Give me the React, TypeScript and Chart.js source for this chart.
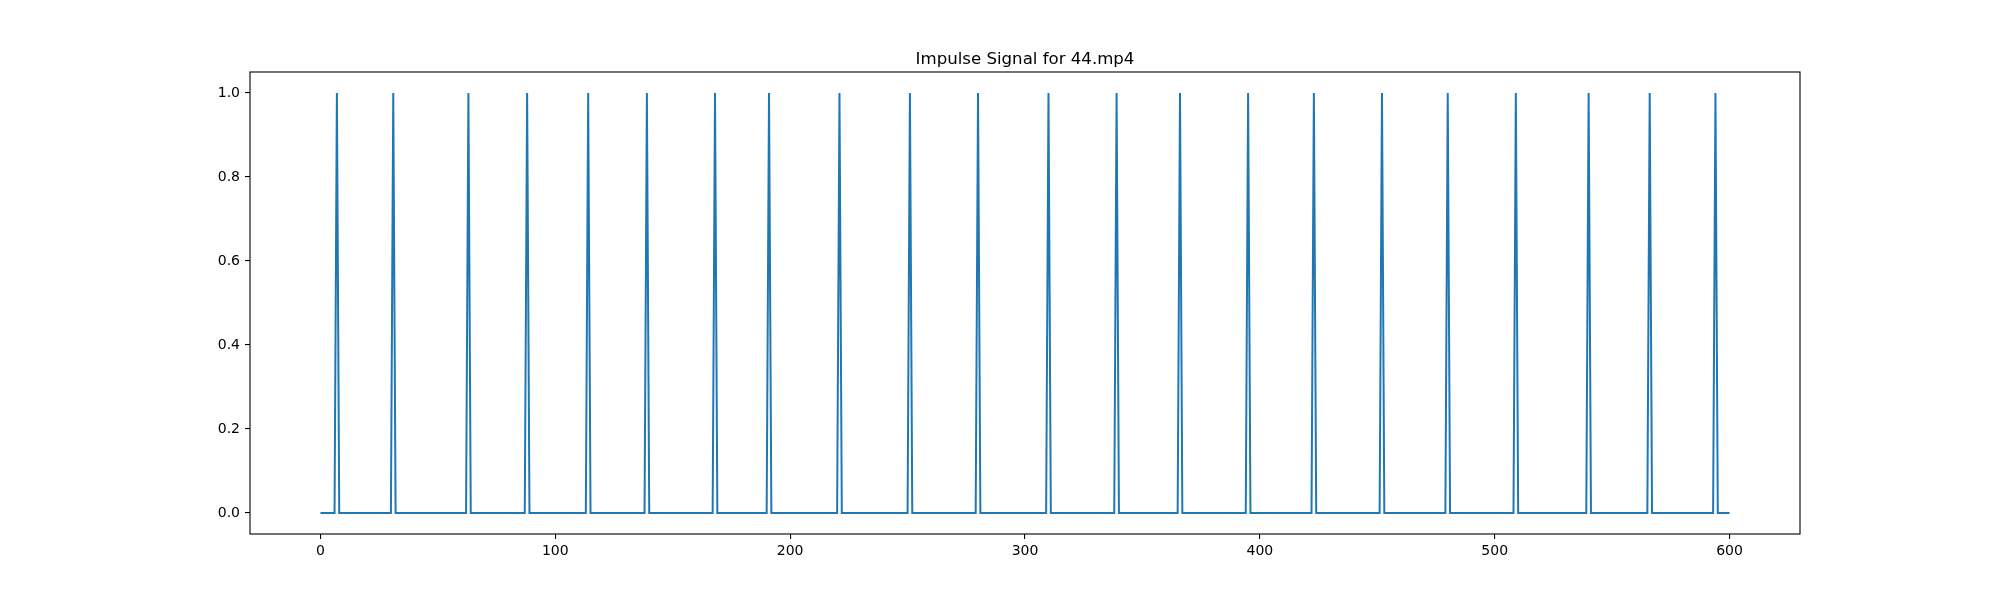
import React, { useEffect, useRef } from "react";
import { Chart, registerables } from "chart.js";

Chart.register(...registerables);

const TITLE = "Impulse Signal for 44.mp4";
const FRAME_COUNT = 601; // frames 0..600
const IMPULSE_FRAMES = [7, 31, 63, 88, 114, 139, 168, 191, 221, 251, 280, 310, 339, 366, 395, 423, 452, 480, 509, 540, 566, 594];
const X_TICKS = [0, 100, 200, 300, 400, 500, 600];
const Y_TICKS = [0, 0.2, 0.4, 0.6, 0.8, 1.0];

export default function App() {
  const ref = useRef<HTMLCanvasElement | null>(null);

  useEffect(() => {
    if (!ref.current) return;
    const impulseSet = new Set(IMPULSE_FRAMES);
    const points: { x: number; y: number }[] = [];
    for (let i = 0; i < FRAME_COUNT; i++) {
      points.push({ x: i, y: impulseSet.has(i) ? 1 : 0 });
    }
    const font = { family: "DejaVu Sans", size: 14 };

    const framePlugin = {
      id: "mplFrame",
      afterDraw(chart: any) {
        const { ctx, chartArea } = chart;
        ctx.save();
        ctx.strokeStyle = "#000";
        ctx.lineWidth = 1.1;
        ctx.strokeRect(chartArea.left, chartArea.top, chartArea.right - chartArea.left, chartArea.bottom - chartArea.top);
        ctx.fillStyle = "#000";
        ctx.font = "16.6px 'DejaVu Sans'";
        ctx.textAlign = "center";
        ctx.textBaseline = "alphabetic";
        ctx.fillText(TITLE, (chartArea.left + chartArea.right) / 2, 64);
        ctx.restore();
      },
    };

    const chart = new Chart(ref.current, {
      type: "line",
      data: {
        datasets: [
          {
            data: points,
            borderColor: "#1f77b4",
            borderWidth: 2,
            pointRadius: 0,
            fill: false,
            tension: 0,
          },
        ],
      },
      options: {
        animation: false,
        responsive: false,
        parsing: false as any,
        layout: { padding: { left: 0, right: 200, top: 72, bottom: 0 } },
        plugins: { legend: { display: false }, title: { display: false }, tooltip: { enabled: false } },
        scales: {
          x: {
            type: "linear",
            min: -30,
            max: 630,
            afterFit: (s: any) => {
              s.height = 66;
            },
            afterBuildTicks: (s: any) => {
              s.ticks = X_TICKS.map((v) => ({ value: v }));
            },
            grid: { display: true, drawOnChartArea: false, drawTicks: true, tickLength: 5, color: "#000", lineWidth: 1.1 },
            border: { display: false },
            ticks: { color: "#000", font, padding: 4, maxRotation: 0, autoSkip: false, callback: (v: any) => String(v) },
          },
          y: {
            type: "linear",
            min: -0.05,
            max: 1.05,
            afterFit: (s: any) => {
              s.width = 250;
            },
            afterBuildTicks: (s: any) => {
              s.ticks = Y_TICKS.map((v) => ({ value: v }));
            },
            grid: { display: true, drawOnChartArea: false, drawTicks: true, tickLength: 5, color: "#000", lineWidth: 1.1 },
            border: { display: false },
            ticks: { color: "#000", font, padding: 5, autoSkip: false, callback: (v: any) => Number(v).toFixed(1) },
          },
        },
      },
      plugins: [framePlugin],
    });
    return () => chart.destroy();
  }, []);

  return (
    <div style={{ position: "absolute", left: 0, top: 0, width: 2000, height: 600, background: "#fff" }}>
      <canvas ref={ref} width={2000} height={600} style={{ width: 2000, height: 600, display: "block" }} />
    </div>
  );
}
